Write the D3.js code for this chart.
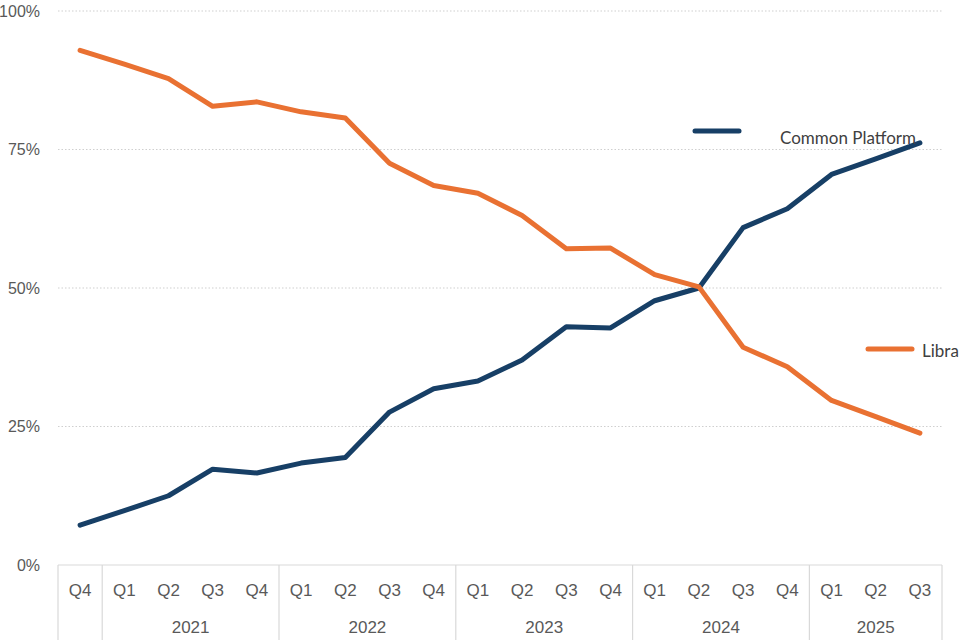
<!DOCTYPE html>
<html>
<head>
<meta charset="utf-8">
<script src="https://cdn.jsdelivr.net/npm/d3@7"></script>
<style>
  html, body { margin: 0; padding: 0; background: #fff; overflow: hidden; }
  svg { display: block; }
</style>
</head>
<body>
<div id="chart"></div>
<script>
// Share of cases by platform, quarterly
var quarters = ['Q4', 'Q1', 'Q2', 'Q3', 'Q4', 'Q1', 'Q2', 'Q3', 'Q4', 'Q1', 'Q2', 'Q3', 'Q4', 'Q1', 'Q2', 'Q3', 'Q4', 'Q1', 'Q2', 'Q3'];
var years = ['', '2021', '2021', '2021', '2021', '2022', '2022', '2022', '2022', '2023', '2023', '2023', '2023', '2024', '2024', '2024', '2024', '2025', '2025', '2025'];

var commonPlatform = [7.2, 9.8, 12.5, 17.3, 16.6, 18.4, 19.4, 27.6, 31.8, 33.2, 37.0, 43.0, 42.8, 47.7, 50.0, 60.9, 64.3, 70.5, 73.3, 76.2];
var libra = [92.9, 90.4, 87.8, 82.8, 83.6, 81.8, 80.7, 72.5, 68.5, 67.1, 63.1, 57.1, 57.2, 52.4, 50.2, 39.3, 35.8, 29.7, 26.8, 23.8];

var yTicks = [0, 25, 50, 75, 100];

// legend placement (Excel-style labels floating in the plot)
var series = [
  { name: 'Common Platform', values: commonPlatform, color: '#173f66', legend: { x1: 695, x2: 739, y: 131, tx: 780, ty: 144 } },
  { name: 'Libra', values: libra, color: '#e97132', legend: { x1: 868, x2: 912, y: 349, tx: 922, ty: 357 } }
];

var width = 960, height = 640;
var margin = { left: 58, right: 18, top: 11, bottom: 75 };
var axisFont = '"Liberation Sans", Arial, sans-serif';

var svg = d3.select('#chart').append('svg').attr('width', width).attr('height', height);

var x = d3.scaleBand()
  .domain(d3.range(quarters.length))
  .range([margin.left, width - margin.right])
  .padding(0);

var y = d3.scaleLinear()
  .domain([0, 100])
  .range([height - margin.bottom, margin.top]);

// Gridlines (dotted)
svg.append('g').selectAll('line')
  .data(yTicks.filter(function(t) { return t > 0; }))
  .join('line')
  .attr('x1', margin.left).attr('x2', width - margin.right)
  .attr('y1', function(d) { return y(d); }).attr('y2', function(d) { return y(d); })
  .attr('stroke', '#cfcfcf')
  .attr('stroke-width', 1)
  .attr('stroke-dasharray', '1.5,2');

// Y tick labels
svg.append('g').selectAll('text')
  .data(yTicks)
  .join('text')
  .attr('x', 40)
  .attr('y', function(d) { return y(d); })
  .attr('dy', '0.35em')
  .attr('text-anchor', 'end')
  .attr('font-family', axisFont)
  .attr('font-size', '16px')
  .attr('fill', '#595959')
  .text(function(d) { return d + '%'; });

// Category axis: baseline + group separators
var axisY = y(0);
svg.append('line')
  .attr('x1', margin.left).attr('x2', width - margin.right)
  .attr('y1', axisY).attr('y2', axisY)
  .attr('stroke', '#d9d9d9').attr('stroke-width', 1.2);

// build year groups from the years list
var groups = [];
years.forEach(function(yr, i) {
  var last = groups[groups.length - 1];
  if (last && last.year === yr) last.end = i;
  else groups.push({ year: yr, start: i, end: i });
});

var sepX = [margin.left];
groups.forEach(function(g) { sepX.push(x(g.end) + x.bandwidth()); });

svg.append('g').selectAll('line')
  .data(sepX)
  .join('line')
  .attr('x1', function(d) { return d; }).attr('x2', function(d) { return d; })
  .attr('y1', axisY).attr('y2', height)
  .attr('stroke', '#d9d9d9').attr('stroke-width', 1.2);

// Quarter labels
svg.append('g').selectAll('text')
  .data(quarters)
  .join('text')
  .attr('x', function(d, i) { return x(i) + x.bandwidth() / 2; })
  .attr('y', 590.5)
  .attr('dy', '0.35em')
  .attr('text-anchor', 'middle')
  .attr('font-family', axisFont)
  .attr('font-size', '17px')
  .attr('fill', '#595959')
  .text(function(d) { return d; });

// Year labels
svg.append('g').selectAll('text')
  .data(groups.filter(function(g) { return g.year; }))
  .join('text')
  .attr('x', function(g) { return (x(g.start) + x(g.end) + x.bandwidth()) / 2; })
  .attr('y', 627)
  .attr('dy', '0.35em')
  .attr('text-anchor', 'middle')
  .attr('font-family', axisFont)
  .attr('font-size', '17px')
  .attr('fill', '#595959')
  .text(function(g) { return g.year; });

// Lines
var line = d3.line()
  .x(function(d, i) { return x(i) + x.bandwidth() / 2; })
  .y(function(d) { return y(d); });

svg.append('g').selectAll('path')
  .data(series)
  .join('path')
  .attr('d', function(s) { return line(s.values); })
  .attr('fill', 'none')
  .attr('stroke', function(s) { return s.color; })
  .attr('stroke-width', 5)
  .attr('stroke-linejoin', 'round')
  .attr('stroke-linecap', 'round');

// Legend entries
var legend = svg.append('g').selectAll('g')
  .data(series)
  .join('g');

legend.append('line')
  .attr('x1', function(s) { return s.legend.x1; })
  .attr('x2', function(s) { return s.legend.x2; })
  .attr('y1', function(s) { return s.legend.y; })
  .attr('y2', function(s) { return s.legend.y; })
  .attr('stroke', function(s) { return s.color; })
  .attr('stroke-width', 5)
  .attr('stroke-linecap', 'round');

legend.append('text')
  .attr('x', function(s) { return s.legend.tx; })
  .attr('y', function(s) { return s.legend.ty; })
  .attr('font-family', 'Lato, "Noto Sans", sans-serif')
  .attr('font-size', '17px')
  .attr('fill', '#404040')
  .text(function(s) { return s.name; });
</script>
</body>
</html>
